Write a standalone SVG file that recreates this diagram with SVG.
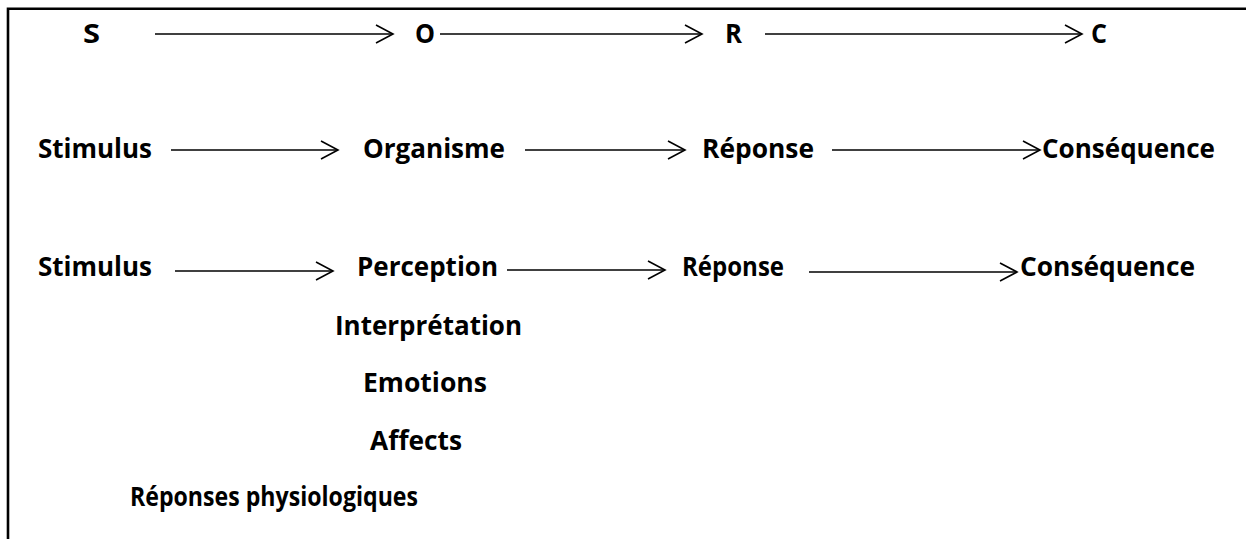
<svg xmlns="http://www.w3.org/2000/svg" width="1246" height="539" viewBox="0 0 1246 539">
<defs>
<style>
text{font-family:"Open Sans","Liberation Sans",sans-serif;font-weight:bold;font-size:26px;fill:#000}
.c{stroke:#000;stroke-width:1.6;fill:none;marker-end:url(#ah)}
.frame{stroke:#000;stroke-width:2.6;fill:none}
</style>
<marker id="ah" markerUnits="userSpaceOnUse" viewBox="-20 -12 22 24" refX="0" refY="0" markerWidth="22" markerHeight="24" orient="auto">
<path d="M-17,-9 L0,0 L-17,9" fill="none" stroke="#000" stroke-width="1.6"/>
</marker>
</defs>
<rect width="1246" height="539" fill="#fff"/>
<path class="frame" d="M8,539 V8.7 H1246"/>
<g id="connectors">
<line class="c" x1="155" y1="34" x2="393" y2="34"/>
<line class="c" x1="440" y1="34" x2="702" y2="34"/>
<line class="c" x1="765" y1="34" x2="1082" y2="34"/>
<line class="c" x1="171" y1="150" x2="338" y2="150"/>
<line class="c" x1="525" y1="150" x2="685" y2="150"/>
<line class="c" x1="832" y1="150" x2="1040" y2="150"/>
<line class="c" x1="175" y1="271" x2="333" y2="271"/>
<line class="c" x1="507" y1="270" x2="665" y2="270"/>
<line class="c" x1="809" y1="272" x2="1017" y2="272"/>
</g>
<g id="n-S"><text x="83" y="43" textLength="17" lengthAdjust="spacingAndGlyphs">S</text></g>
<g id="n-O"><text x="415" y="43" textLength="20" lengthAdjust="spacingAndGlyphs">O</text></g>
<g id="n-R"><text x="725" y="43" textLength="17" lengthAdjust="spacingAndGlyphs">R</text></g>
<g id="n-C"><text x="1091" y="43" textLength="16" lengthAdjust="spacingAndGlyphs">C</text></g>
<g id="n-stimulus1"><text x="38" y="158" textLength="114" lengthAdjust="spacingAndGlyphs">Stimulus</text></g>
<g id="n-organisme"><text x="363" y="158" textLength="142" lengthAdjust="spacingAndGlyphs">Organisme</text></g>
<g id="n-reponse1"><text x="702" y="158" textLength="112" lengthAdjust="spacingAndGlyphs">Réponse</text></g>
<g id="n-consequence1"><text x="1042" y="158" textLength="173" lengthAdjust="spacingAndGlyphs">Conséquence</text></g>
<g id="n-stimulus2"><text x="38" y="276" textLength="114" lengthAdjust="spacingAndGlyphs">Stimulus</text></g>
<g id="n-perception"><text x="357" y="276" textLength="141" lengthAdjust="spacingAndGlyphs">Perception</text></g>
<g id="n-reponse2"><text x="682" y="276" textLength="102" lengthAdjust="spacingAndGlyphs">Réponse</text></g>
<g id="n-consequence2"><text x="1020" y="276" textLength="175" lengthAdjust="spacingAndGlyphs">Conséquence</text></g>
<g id="n-interpretation"><text x="335" y="335" textLength="187" lengthAdjust="spacingAndGlyphs">Interprétation</text></g>
<g id="n-emotions"><text x="363" y="392" textLength="124" lengthAdjust="spacingAndGlyphs">Emotions</text></g>
<g id="n-affects"><text x="370" y="450" textLength="92" lengthAdjust="spacingAndGlyphs">Affects</text></g>
<g id="n-physio"><text x="130" y="506" textLength="288" lengthAdjust="spacingAndGlyphs">Réponses physiologiques</text></g>
</svg>
